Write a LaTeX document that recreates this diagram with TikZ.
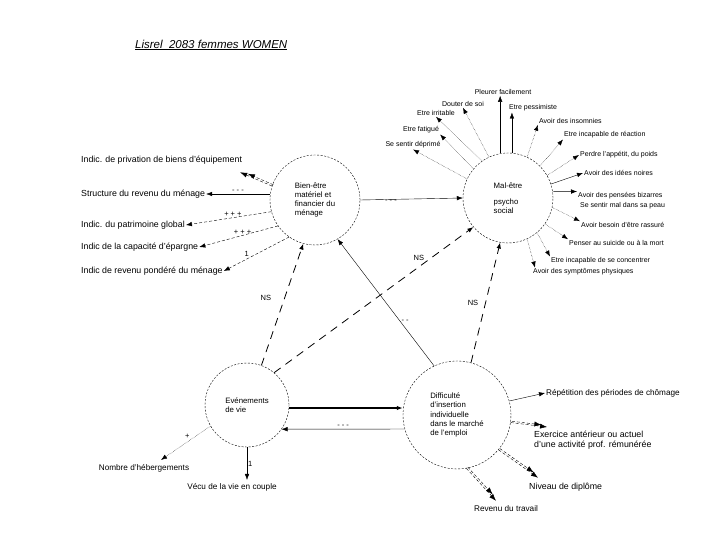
\documentclass[tikz,border=0pt]{standalone}
\usepackage{fontspec}
\setmainfont{Liberation Sans}
\usetikzlibrary{arrows.meta, positioning}
\tikzstyle{latent} = [circle, draw, dash pattern=on 2pt off 1.5pt, align=left, inner sep=0pt, font=\fontsize{7.8}{9.2}\selectfont]
\tikzstyle{indic} = [inner sep=1pt, font=\fontsize{8.2}{9.5}\selectfont]
\tikzstyle{indicL} = [indic, font=\fontsize{8.8}{10}\selectfont]
\tikzstyle{indicS} = [indic, font=\fontsize{7}{8.5}\selectfont]
\tikzstyle{coef} = [inner sep=1pt, font=\fontsize{7.5}{9}\selectfont]
\tikzstyle{arrow} = [-{Latex[length=6pt,width=4.5pt]}]
\tikzstyle{dotarrow} = [arrow, densely dotted]
\tikzstyle{dasharrow} = [arrow, thick, dash pattern=on 8pt off 6pt]
\tikzstyle{dblarrow} = [-{Latex[length=7pt,width=5pt]}, densely dashed,
  postaction={draw, transform canvas={xshift=1.3pt, yshift=1.3pt}, shorten >=7pt}]

\begin{document}
\begin{tikzpicture}[x=1pt, y=-1pt]
\useasboundingbox (0,0) rectangle (720,540);

% Title
\node (title) [anchor=west, inner sep=0pt, font=\fontsize{11.5}{13}\selectfont] at (135,45) {\underline{\textit{Lisrel\ \ 2083 femmes WOMEN}}};

% Latent variables
\node (bien) [latent, minimum size=90pt] at (315,200) {Bien-être\\matériel et\\financier du\\ménage};
\node (mal) [latent, minimum size=90pt] at (508,198) {Mal-être\\[7pt]psycho\\social};
\node (ev) [latent, minimum size=84pt] at (247,405) {Evénements\\de vie};
\node (diff) [latent, minimum size=108pt] at (457,415) {Difficulté\\d'insertion\\individuelle\\dans le marché\\de l'emploi};

% Indicators of bien
\node (privation) [indicL, anchor=west] at (80,160) {Indic. de privation de biens d'équipement};
\node (structure) [indicL, anchor=west] at (80,194) {Structure du revenu du ménage};
\node (patrimoine) [indicL, anchor=west] at (80,225) {Indic. du patrimoine global};
\node (capacite) [indicL, anchor=west] at (80,247) {Indic de la capacité d'épargne};
\node (revenuM) [indicL, anchor=west] at (80,271) {Indic de revenu pondéré du ménage};

% Indicators of mal
\node (pleurer) [indicS] at (503,92) {Pleurer facilement};
\node (douter) [indicS] at (463,104) {Douter de soi};
\node (irritable) [indicS] at (436,113) {Etre irritable};
\node (pessimiste) [indicS] at (533,108) {Etre pessimiste};
\node (insomnies) [indicS, anchor=west] at (538,121) {Avoir des insomnies};
\node (fatigue) [indicS] at (421,130) {Etre fatigué};
\node (deprime) [indicS] at (413,145) {Se sentir déprimé};
\node (reaction) [indicS, anchor=west] at (563,135) {Etre incapable de réaction};
\node (perdre) [indicS, anchor=west] at (579,155) {Perdre l'appétit, du poids};
\node (noires) [indicS, anchor=west] at (583,173) {Avoir des idées noires};
\node (bizarres) [indicS, anchor=west] at (577,196) {Avoir des pensées bizarres};
\node (peau) [indicS, anchor=west] at (579,206) {Se sentir mal dans sa peau};
\node (rassure) [indicS, anchor=west] at (580,225) {Avoir besoin d'être rassuré};
\node (suicide) [indicS, anchor=west] at (568,243) {Penser au suicide ou à la mort};
\node (concentrer) [indicS, anchor=west] at (550,261) {Etre incapable de se concentrer};
\node (physiques) [indicS, anchor=west] at (532,272) {Avoir des symptômes physiques};

% Indicators of ev
\node (nombre) [indic] at (144,468) {Nombre d'hébergements};
\node (vecu) [indic] at (232,487) {Vécu de la vie en couple};

% Indicators of diff
\node (repet) [indic, anchor=west] at (545,393) {Répétition des périodes de chômage};
\node (exercice) [indicL, anchor=north west, align=left] at (533,430) {Exercice antérieur ou actuel\\d'une activité prof. rémunérée};
\node (niveau) [indicL, anchor=west] at (528,487) {Niveau de diplôme};
\node (revenuT) [indic] at (506,509) {Revenu du travail};

% Measurement arrows: bien
\draw [dblarrow] (bien.162) -- ([xshift=-3pt, yshift=-7pt]privation.south east);
\draw [arrow] (bien.west |- structure.east) -- node[coef, above] {- - -} (structure.east);
\draw [arrow, densely dashed] (bien.195) -- node[coef, above, pos=0.45] {+ + +} (patrimoine.east);
\draw [arrow, densely dashed] (bien.215) -- node[coef, above, pos=0.45] {+ + +} (capacite.east);
\draw [arrow, densely dashed] (bien.235) -- node[coef, above left, pos=0.6] {1} (revenuM.east);

% Measurement arrows: mal
\draw [arrow] (mal.100) -- (mal.100 |- pleurer.south);
\draw [dotarrow] (mal.115) -- (douter.south);
\draw [dotarrow] (mal.125) -- (irritable.south);
\draw [arrow] (mal.85) -- (mal.85 |- pessimiste.south);
\draw [dotarrow] (mal.65) -- (insomnies.south west);
\draw [dotarrow] (mal.140) -- (fatigue.south east);
\draw [dotarrow] (mal.155) -- (deprime.south);
\draw [dotarrow] (mal.45) -- (reaction.south west);
\draw [dotarrow] (mal.30) -- (perdre.west);
\draw [arrow] (mal.18) -- (noires.west);
\draw [arrow] (mal.8) -- (bizarres.north west);
\draw [dotarrow] (mal.-12) -- (rassure.north west);
\draw [dotarrow] (mal.-35) -- (suicide.north west);
\draw [dotarrow] (mal.-50) -- (concentrer.north west);
\draw [dotarrow] (mal.-65) -- ([xshift=3pt]physiques.north west);

% Measurement arrows: ev
\draw [dotarrow] (ev.210) -- node[coef, above left, pos=0.4] {+} ([xshift=17pt, yshift=3pt]nombre.north);
\draw [arrow] (ev.south) -- node[coef, right] {1} ([yshift=2pt]ev.south |- vecu.north);

% Measurement arrows: diff
\draw [arrow] (diff.15) -- (repet.west);
\draw [dblarrow] (diff.-8) -- ([xshift=14pt, yshift=3pt]exercice.north west);
\draw [dblarrow] (diff.-40) -- ([xshift=10pt, yshift=4pt]niveau.north west);
\draw [dblarrow] (diff.-80) -- ([xshift=-10pt, yshift=4pt]revenuT.north);

% Structural paths
\draw [arrow] (bien.east) -- node[coef, below, pos=0.3] {- - -} (mal.west);
\draw [dasharrow] (ev.70) -- node[coef, left=12pt, pos=0.55] {NS} (bien.255);
\draw [dasharrow] (ev.50) -- node[coef, above left, pos=0.76] {NS} (mal.220);
\draw [arrow, very thick] (ev.east |- 0,408) -- (diff.west |- 0,408);
\draw [arrow] (diff.195) -- node[coef, above] {- - -} (ev.-35);
\draw [arrow] (diff.115) -- node[coef, right, pos=0.35] {- -} (bien.300);
\draw [dasharrow] (diff.75) -- node[coef, left=6pt, pos=0.5] {NS} (mal.260);

\end{tikzpicture}
\end{document}
